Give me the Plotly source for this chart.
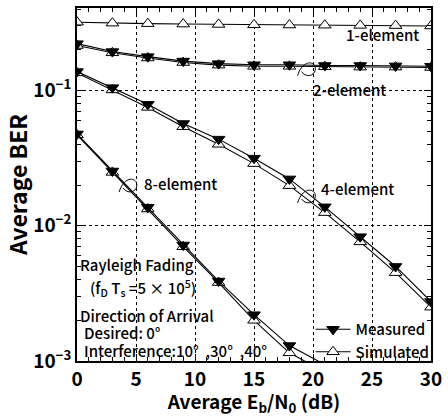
import math
import plotly.graph_objects as go

# ---------------- data ----------------
snr_db = [0, 3, 6, 9, 12, 15, 18, 21, 24, 27, 30]

sim_1el = [0.320, 0.315, 0.312, 0.310, 0.308, 0.306, 0.305, 0.304, 0.303, 0.302, 0.300]

meas_2el = [0.222, 0.194, 0.178, 0.165, 0.158, 0.155, 0.155, 0.153, 0.153, 0.152, 0.151]
sim_2el = [0.215, 0.190, 0.174, 0.161, 0.154, 0.151, 0.151, 0.150, 0.149, 0.149, 0.148]

meas_4el = [0.138, 0.105, 0.079, 0.057, 0.0437, 0.0316, 0.0222, 0.0138, 0.0083, 0.0050, 0.00275]
sim_4el = [0.135, 0.101, 0.075, 0.054, 0.0400, 0.0288, 0.0198, 0.0125, 0.0076, 0.0045, 0.00250]

meas_8el = [0.0477, 0.0254, 0.0137, 0.0072, 0.0039, 0.0022, 0.00130, 0.00094]
sim_8el = [0.0470, 0.0248, 0.0133, 0.0070, 0.0038, 0.0020, 0.00115, 0.00083]

x_ticks = [0, 5, 10, 15, 20, 25, 30]
y_ticks = [1e-3, 1e-2, 1e-1]
y_tick_text = ["10<sup>−3</sup>", "10<sup>−2</sup>", "10<sup>−1</sup>"]

# ---------------- figure ----------------
FONT = "Noto Sans CJK JP"
W, H = 448, 417
ML, MR, MT, MB = 77, 10, 6, 56

fig = go.Figure()

meas_style = dict(mode="lines+markers", line=dict(color="black", width=1.1),
                  marker=dict(symbol="triangle-down", size=11, color="black",
                              line=dict(color="black", width=1)))
sim_style = dict(mode="lines+markers", line=dict(color="black", width=1.1),
                 marker=dict(symbol="triangle-up", size=11, color="white",
                             line=dict(color="black", width=1)))

fig.add_trace(go.Scatter(x=snr_db, y=sim_1el, showlegend=False, **sim_style))
fig.add_trace(go.Scatter(x=snr_db, y=sim_2el, showlegend=False, **sim_style))
fig.add_trace(go.Scatter(x=snr_db, y=meas_2el, showlegend=False, **meas_style))
fig.add_trace(go.Scatter(x=snr_db, y=sim_4el, showlegend=False, **sim_style))
fig.add_trace(go.Scatter(x=snr_db, y=meas_4el, showlegend=False, **meas_style))
fig.add_trace(go.Scatter(x=snr_db[:len(sim_8el)], y=sim_8el, showlegend=False, **sim_style))
fig.add_trace(go.Scatter(x=snr_db[:len(meas_8el)], y=meas_8el, showlegend=False, **meas_style))
# legend entries
fig.add_trace(go.Scatter(x=[None], y=[None], name="Measured", **meas_style))
fig.add_trace(go.Scatter(x=[None], y=[None], name="Simulated", **sim_style))

axis_common = dict(showline=True, linecolor="black", linewidth=1.8, mirror="allticks",
                   ticks="inside", tickcolor="black", ticklen=7, tickwidth=1,
                   showgrid=True, gridcolor="black", gridwidth=1, griddash="dot",
                   zeroline=False, ticklabeloverflow="allow",
                   tickfont=dict(family=FONT, size=19, color="black", weight="bold"))

fig.update_xaxes(range=[0, 30], tickvals=x_ticks,
                 minor=dict(ticks="inside", ticklen=4, dtick=1, tickcolor="black", showgrid=False),
                 title=dict(text="Average E<sub>b</sub>/N<sub>0</sub> (dB)",
                            font=dict(family=FONT, size=19, color="black", weight="bold"), standoff=2),
                 **axis_common)
fig.update_yaxes(type="log", range=[-3, -0.39], tickvals=y_ticks, ticktext=y_tick_text,
                 minor=dict(ticks="inside", ticklen=4,
                            tickvals=[m * 10 ** e for e in (-3, -2, -1) for m in range(2, 10)],
                            tickcolor="black", showgrid=False),
                 title=dict(text="Average BER", font=dict(family=FONT, size=23, color="black", weight="bold"),
                            standoff=2),
                 **axis_common)

fig.update_layout(
    width=W, height=H, margin=dict(l=ML, r=MR, t=MT, b=MB),
    paper_bgcolor="white", plot_bgcolor="white",
    font=dict(family=FONT, color="black"),
    legend=dict(x=1.01, y=-0.02, xanchor="right", yanchor="bottom",
                bgcolor="rgba(255,255,255,0)",
                font=dict(family=FONT, size=15, color="black", weight=500),
                tracegroupgap=0, itemwidth=35),
)

ann_font = dict(family=FONT, size=15, color="black", weight=500)
# (x in dB, BER, text)
labels = [
    (22.6, 0.258, "1-element"),
    (19.8, 0.1016, "2-element"),
    (20.5, 0.0187, "4-element"),
    (5.5, 0.0204, "8-element"),
    (0.1, 0.00520, "Rayleigh Fading"),
    (0.9, 0.00348, "(f<sub>D</sub> T<sub>s</sub> =5 × 10<sup>5</sup>)"),
    (0.1, 0.00218, "Direction of Arrival"),
    (0.45, 0.00163, "Desired: 0°"),
    (0.45, 0.00120, "Interference:10°  ,30°  ,40°"),
]
for x, y, t in labels:
    fig.add_annotation(x=x, y=math.log10(y), xref="x", yref="y", text=t, showarrow=False,
                       xanchor="left", yanchor="middle", font=ann_font)

# small loop symbols (pixel positions converted to paper coordinates)
def px(xp, yp):
    return (xp - ML) / (W - ML - MR), (H - MB - yp) / (H - MT - MB)

def loop_path(cx, cy):
    pts = [(-9, 7), (-4, -10), (10, -8), (9, 1), (8, 8), (-1, 9), (-5, 3)]
    p = [px(cx + dx, cy + dy) for dx, dy in pts]
    return (f"M {p[0][0]},{p[0][1]} C {p[1][0]},{p[1][1]} {p[2][0]},{p[2][1]} {p[3][0]},{p[3][1]} "
            f"C {p[4][0]},{p[4][1]} {p[5][0]},{p[5][1]} {p[6][0]},{p[6][1]}")

for cx, cy in [(129, 184), (311, 67), (311, 195)]:
    fig.add_shape(type="path", path=loop_path(cx, cy), xref="paper", yref="paper",
                  line=dict(color="black", width=1))

fig.write_html("out.html", config={"displayModeBar": False},
               post_script="document.body.style.margin='0';")
